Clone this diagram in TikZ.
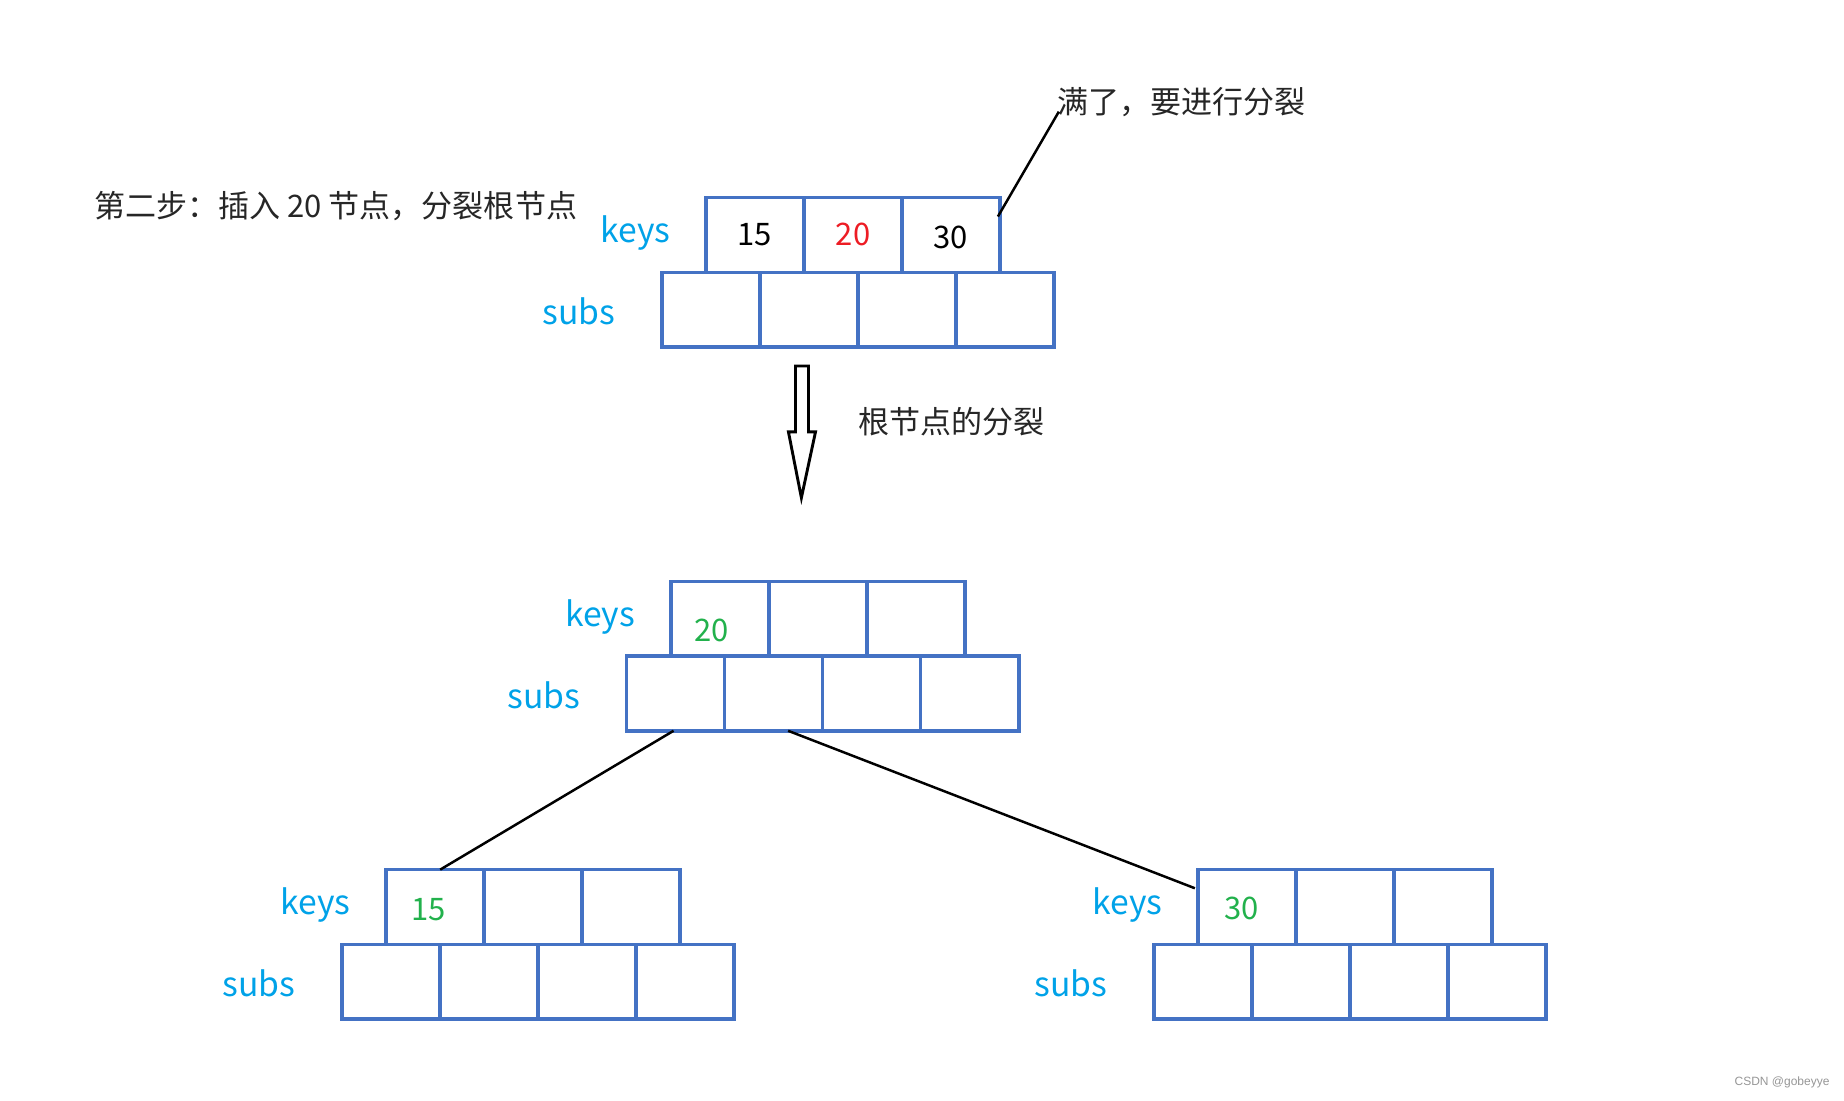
\documentclass[tikz,border=0pt]{standalone}
\usepackage{fontspec}
\setmainfont{Noto Sans CJK SC}
\newfontfamily\wmfont{Liberation Sans}
\usetikzlibrary{calc}
\definecolor{boxblue}{RGB}{68,114,196}
\definecolor{lblue}{RGB}{0,162,232}
\definecolor{kgreen}{RGB}{34,177,76}
\definecolor{kred}{RGB}{237,28,36}
\definecolor{wmgray}{RGB}{150,150,150}
\tikzset{
  cell/.style={draw=boxblue, line width=1.7pt, minimum width=83.3*0.5692pt, minimum height=63.5*0.5692pt, inner sep=0pt, outer sep=0pt},
  lbl/.style={text=lblue, font=\fontsize{16.3}{19}\selectfont, inner sep=0pt},
  num/.style={font=\fontsize{15}{18}\selectfont, inner sep=0pt},
  cjk/.style={font=\fontsize{15}{18}\selectfont, inner sep=0pt, text=black!85},
  link/.style={draw=black, line width=1.2pt},
}
\newcommand\btree[3]{%
  \foreach \i in {1,2,3} {\node[cell] (#1-k\i) at ({#2+(\i-0.5)*83.3},{#3+31.75}) {};}
  \foreach \i in {1,2,3,4} {\node[cell] (#1-s\i) at ({#2-37.5+(\i-0.5)*83.3},{#3+63.5+31.75}) {};}
  \node[lbl] (#1-kl) at ({#2-60},{#3+30}) {keys};
  \node[lbl] (#1-sl) at ({#2-108},{#3+96.5}) {subs};
}
\begin{document}
\begin{tikzpicture}[x=0.5692pt, y=-0.5692pt]
\useasboundingbox (0,0) rectangle (1567,934.8);
\btree{top}{600}{168}
\btree{mid}{570}{494}
\btree{lft}{328}{739}
\btree{rgt}{1018}{739}
% keys
\node[num] (t15) at (641,199) {15};
\node[num, text=kred] (t20) at (725,199) {20};
\node[num] (t30) at (808,202) {30};
\node[num, text=kgreen] (m20) at (605,536) {20};
\node[num, text=kgreen] (l15) at (364,773) {15};
\node[num, text=kgreen] (r30) at (1055,772) {30};
% texts
\node[cjk, anchor=west] (step) at (80,175) {第二步：插入 20 节点，分裂根节点};
\node[cjk, anchor=west] (full) at (898,87) {满了，要进行分裂};
\node[cjk, anchor=west] (split) at (729,358) {根节点的分裂};
\node[font=\wmfont\fontsize{5.8}{7}\selectfont, text=wmgray, anchor=east, inner sep=0pt] (wm) at (1555,920) {CSDN @gobeyye};
% callout
\coordinate (cfrom) at (848,184);
\draw[link] (cfrom) -- ([xshift=1pt,yshift=-4.5pt]full.west);
% hollow arrow
\coordinate (a1) at (676,311);
\coordinate (a2) at (687,311);
\coordinate (a3) at (687,367);
\coordinate (a4) at (693,367);
\coordinate (tip) at (681,423);
\coordinate (a6) at (670,367);
\coordinate (a7) at (676,367);
\draw[black, line width=1.4pt, line join=miter] (a1) -- (a2) -- (a3) -- (a4) -- (tip) -- (a6) -- (a7) -- cycle;
% tree links
\draw[link] ([xshift=-1pt]mid-s1.south) -- ([xshift=2.5pt]lft-k1.north);
\draw[link] ([xshift=7pt]mid-s2.south) -- ([xshift=-1.5pt,yshift=-9pt]rgt-k1.north west);
\end{tikzpicture}
\end{document}
